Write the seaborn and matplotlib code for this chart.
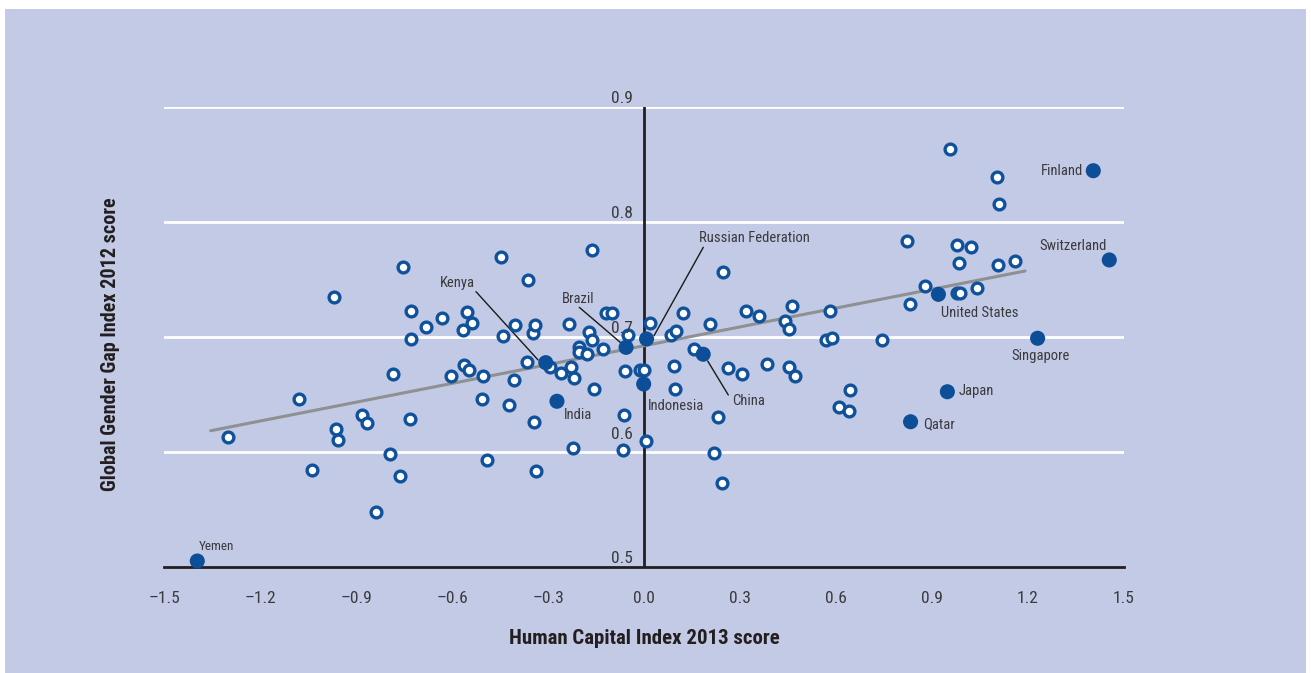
import matplotlib
matplotlib.use("Agg")
import matplotlib.pyplot as plt
from matplotlib.patches import Rectangle
import seaborn as sns
import pandas as pd
import numpy as np
from matplotlib import font_manager

# ---------------- data ----------------
# open circles: all other countries (Human Capital Index 2013, Global Gender Gap Index 2012)
other_hci = [-1.299, -1.078, -1.037, -0.969, -0.963, -0.955, -0.880, -0.867, -0.838, -0.793,
             -0.783, -0.762, -0.752, -0.730, -0.728, -0.727, -0.682, -0.631, -0.604, -0.567,
             -0.554, -0.538, -0.5625, -0.547, -0.507, -0.502, -0.490, -0.448, -0.442, -0.422,
             -0.406, -0.403, -0.363, -0.366, -0.346, -0.341, -0.343, -0.339, -0.295, -0.260,
             -0.235, -0.229, -0.218, -0.221, -0.204, -0.204, -0.179, -0.173, -0.162, -0.1625,
             -0.157, -0.127, -0.120, -0.099, -0.059, -0.0616, -0.0666, -0.050, -0.0125, 0.001,
             0.0053, 0.019, 0.085, 0.099, 0.095, 0.097, 0.122, 0.156, 0.205, 0.246,
             0.230, 0.220, 0.244, 0.263, 0.305, 0.318, 0.358, 0.385, 0.442, 0.452,
             0.464, 0.452, 0.471, 0.570, 0.587, 0.580, 0.643, 0.609, 0.640, 0.745,
             0.822, 0.830, 0.879, 0.956, 0.977, 0.984, 0.977, 0.9875, 1.023, 1.041,
             1.103, 1.109, 1.107, 1.160]
other_ggi = [0.6128, 0.6458, 0.5841, 0.7345, 0.6203, 0.6107, 0.6322, 0.6255, 0.5481, 0.5980,
             0.6678, 0.5789, 0.7606, 0.6287, 0.7226, 0.6980, 0.7087, 0.7168, 0.6661, 0.7061,
             0.7220, 0.7119, 0.6759, 0.6710, 0.6458, 0.6661, 0.5930, 0.7698, 0.7009, 0.6411,
             0.6626, 0.7104, 0.7496, 0.6780, 0.7039, 0.7104, 0.6261, 0.5835, 0.6742, 0.6684,
             0.7116, 0.6742, 0.6641, 0.6032, 0.6910, 0.6870, 0.6850, 0.7041, 0.6971, 0.7757,
             0.6550, 0.6893, 0.7209, 0.7209, 0.6707, 0.6324, 0.6017, 0.7017, 0.6716, 0.6716,
             0.6098, 0.7119, 0.7017, 0.7052, 0.6748, 0.6550, 0.7209, 0.6893, 0.7116, 0.7565,
             0.6302, 0.5994, 0.5733, 0.6730, 0.6678, 0.7229, 0.7185, 0.6768, 0.7135, 0.7067,
             0.7271, 0.6735, 0.6665, 0.6978, 0.6989, 0.7229, 0.6541, 0.6389, 0.6358, 0.6978,
             0.7837, 0.7290, 0.7443, 0.8632, 0.7803, 0.7646, 0.7385, 0.7380, 0.7780, 0.7429,
             0.8394, 0.8157, 0.7626, 0.7658]

# highlighted countries
hl_names = ["Yemen", "Kenya", "Brazil", "Russian Federation", "China", "Indonesia", "India",
            "Finland", "Switzerland", "United States", "Singapore", "Japan", "Qatar"]
hl_hci = [-1.396, -0.307, -0.056, 0.008, 0.185, -0.001, -0.272,
          1.404, 1.454, 0.920, 1.230, 0.948, 0.833]
hl_ggi = [0.5052, 0.6777, 0.6910, 0.6983, 0.6850, 0.6591, 0.6441,
          0.8446, 0.7670, 0.7371, 0.6989, 0.6524, 0.6263]

# trend line (as drawn)
trend_x = [-1.354, 1.191]
trend_y = [0.6185, 0.7574]

x_ticks = [-1.5, -1.2, -0.9, -0.6, -0.3, 0.0, 0.3, 0.6, 0.9, 1.2, 1.5]
x_tick_labels = ["\u20131.5", "\u20131.2", "\u20130.9", "\u20130.6", "\u20130.3", "0.0",
                 "0.3", "0.6", "0.9", "1.2", "1.5"]
y_ticks = [0.5, 0.6, 0.7, 0.8, 0.9]
y_tick_labels = ["0.5", "0.6", "0.7", "0.8", "0.9"]

x_label = "Human Capital Index 2013 score"
y_label = "Global Gender Gap Index 2012 score"

# ---------------- style ----------------
BG = "#c3cae5"
BLUE = "#0f519b"
BLUE_FILL = "#0c4e97"
TXT = "#3a3a3c"
AXC = "#231f20"

sns.set_style("white")
names = {f.name for f in font_manager.fontManager.ttflist}
fam = []
for f in ["Liberation Sans Narrow", "DejaVu Sans Condensed", "Roboto Condensed", "Liberation Sans"]:
    if f in names:
        fam.append(f)
fam.append("DejaVu Sans")
plt.rcParams["font.family"] = fam

fig = plt.figure(figsize=(13.11, 6.73), dpi=100)
fig.patch.set_facecolor("white")
fig.patches.append(Rectangle((5 / 1311, 0), 1301 / 1311, 664 / 673, transform=fig.transFigure,
                             facecolor=BG, edgecolor="none", zorder=-10))
ax = fig.add_axes([164 / 1311, 1 - 567 / 673, 960 / 1311, 460 / 673])
ax.set_facecolor("none")

ax.set_xlim(-1.5, 1.5)
ax.set_ylim(0.5, 0.9)

# grid lines
for yv in y_ticks[1:]:
    ax.axhline(yv, color="white", lw=2.0, zorder=1)
# vertical axis at 0
ax.axvline(0, color=AXC, lw=2.0, zorder=2)

# trend line
sns.lineplot(x=trend_x, y=trend_y, ax=ax, color="#8f9092", lw=2.2, zorder=3)

# open circles
df_o = pd.DataFrame({"hci": other_hci, "ggi": other_ggi})
sns.scatterplot(data=df_o, x="hci", y="ggi", ax=ax, s=60, facecolor="white",
                edgecolor=BLUE, linewidth=2.4, zorder=4, clip_on=False)

# highlighted
df_h = pd.DataFrame({"name": hl_names, "hci": hl_hci, "ggi": hl_ggi})
sns.scatterplot(data=df_h, x="hci", y="ggi", ax=ax, s=118, color=BLUE_FILL,
                edgecolor="none", linewidth=0, zorder=5, clip_on=False)

# labels: (x, y, ha, size)
lab_pos = {
    "Yemen": (-1.3906, 0.5177, "left", 9.5),
    "Kenya": (-0.6375, 0.7467, "left", 10.5),
    "Brazil": (-0.2572, 0.7330, "left", 10.5),
    "Russian Federation": (0.1719, 0.7858, "left", 10.5),
    "China": (0.2759, 0.6443, "left", 10.5),
    "Indonesia": (0.0116, 0.6403, "left", 10.5),
    "India": (-0.2509, 0.6319, "left", 10.5),
    "Finland": (1.3709, 0.8446, "right", 10.5),
    "Switzerland": (1.2353, 0.7794, "left", 10.5),
    "United States": (0.9281, 0.7206, "left", 10.5),
    "Singapore": (1.1491, 0.6837, "left", 10.5),
    "Japan": (0.9834, 0.6533, "left", 10.5),
    "Qatar": (0.8709, 0.6241, "left", 10.5),
}
for n in hl_names:
    x, y, ha, fs = lab_pos[n]
    ax.text(x, y, n, ha=ha, va="center", fontsize=fs, color=TXT, zorder=6)

leaders = [((-0.525, 0.7394), (-0.331, 0.680)),
           ((-0.2022, 0.7258), (-0.0728, 0.6950)),
           ((0.1853, 0.7780), (0.03125, 0.7011)),
           ((0.1991, 0.6791), (0.2634, 0.6496))]
for (x0, y0), (x1, y1) in leaders:
    ax.plot([x0, x1], [y0, y1], color="#1a1a1a", lw=1.0, zorder=3.5)

# y tick labels beside the zero axis
for yv, lab in zip(y_ticks, y_tick_labels):
    off = 0.0155 if abs(yv - 0.6) < 1e-9 else 0.0078
    ax.text(-0.035, yv + off, lab, ha="right", va="center", fontsize=12.5, color=TXT, zorder=6)
ax.set_yticks([])

# axes spines
for s in ["top", "right", "left"]:
    ax.spines[s].set_visible(False)
ax.spines["bottom"].set_color(AXC)
ax.spines["bottom"].set_linewidth(2.0)
ax.set_xticks(x_ticks)
ax.set_xticklabels(x_tick_labels)
ax.tick_params(axis="x", direction="in", length=7, width=1.6, color=AXC,
               pad=17, labelsize=12.5, labelcolor=TXT)

ax.set_xlabel(x_label, fontsize=15, fontweight="bold", color="#231f20", labelpad=17)
ax.set_ylabel(y_label, fontsize=14.5, fontweight="bold", color="#231f20")
ax.yaxis.set_label_coords(-0.046, 0.485)

fig.savefig("out.png", dpi=100, facecolor="white")
